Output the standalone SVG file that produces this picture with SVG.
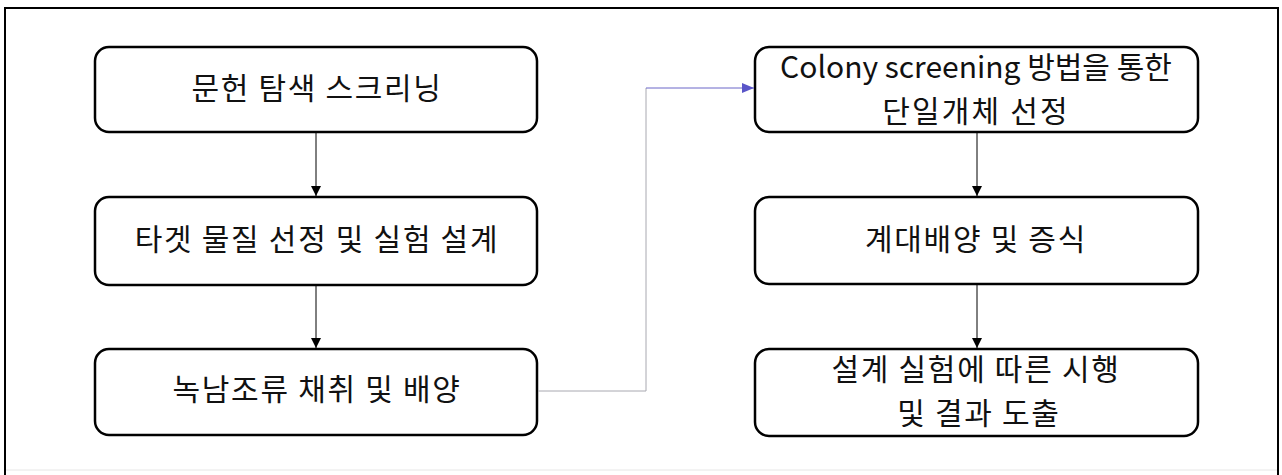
<svg xmlns="http://www.w3.org/2000/svg" width="1282" height="475" viewBox="0 0 1282 475">
<defs>
<marker id="ah" markerWidth="12" markerHeight="12" refX="11" refY="6" orient="auto" markerUnits="userSpaceOnUse">
<path d="M1,1 L11,6 L1,11 Z" fill="#000"/>
</marker>
<marker id="ahb" markerWidth="14" markerHeight="12" refX="13" refY="6" orient="auto" markerUnits="userSpaceOnUse">
<path d="M1,1 L13,6 L1,11 Z" fill="#5a55c8"/>
</marker>
<style>
.box{fill:#fff;stroke:#000;stroke-width:2.5}
.t{font-family:"Malgun Gothic","Noto Sans CJK KR",sans-serif;font-size:30px;fill:#111;text-anchor:middle;letter-spacing:1.7px}
.c{fill:none;stroke:#000;stroke-width:1}
</style>
</defs>
<rect x="0" y="0" width="1282" height="475" fill="#fff"/>
<rect id="frame" x="5" y="8" width="1273" height="480" fill="none" stroke="#000" stroke-width="2"/>
<line x1="6" y1="470" x2="1277" y2="470" stroke="#e6e6e6" stroke-width="1"/>
<g id="n1"><rect class="box" x="95" y="47" width="442" height="85" rx="14"/><text class="t" x="317" y="99">문헌 탐색 스크리닝</text></g>
<g id="n2"><rect class="box" x="95" y="197" width="442" height="88" rx="14"/><text class="t" x="317" y="250">타겟 물질 선정 및 실험 설계</text></g>
<g id="n3"><rect class="box" x="95" y="349" width="442" height="86" rx="14"/><text class="t" x="317" y="400">녹남조류 채취 및 배양</text></g>
<g id="n4"><rect class="box" x="755" y="47" width="443" height="85" rx="14"/><text class="t"><tspan x="976" y="78" style="letter-spacing:0">Colony screening 방법을 통한</tspan><tspan x="976" y="122" style="letter-spacing:2.2px">단일개체 선정</tspan></text></g>
<g id="n5"><rect class="box" x="755" y="197" width="443" height="87" rx="14"/><text class="t" x="976" y="250">계대배양 및 증식</text></g>
<g id="n6"><rect class="box" x="755" y="349" width="443" height="87" rx="14"/><text class="t"><tspan x="976" y="380">설계 실험에 따른 시행</tspan><tspan x="979" y="424">및 결과 도출</tspan></text></g>
<g id="connectors">
<line class="c" x1="316" y1="133" x2="316" y2="196" marker-end="url(#ah)"/>
<line class="c" x1="316" y1="286" x2="316" y2="348" marker-end="url(#ah)"/>
<line class="c" x1="977" y1="133" x2="977" y2="196" marker-end="url(#ah)"/>
<line class="c" x1="977" y1="285" x2="977" y2="348" marker-end="url(#ah)"/>
<polyline points="538,391 646,391 646,88" fill="none" stroke="#a8a8b0" stroke-width="1"/>
<line x1="646" y1="88" x2="754" y2="88" stroke="#6a66c8" stroke-width="1" marker-end="url(#ahb)"/>
</g>
</svg>
